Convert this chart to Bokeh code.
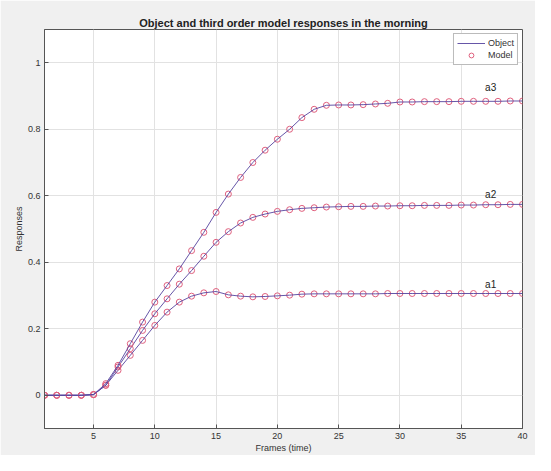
from bokeh.plotting import figure
from bokeh.models import FixedTicker, Legend, LegendItem, ColumnDataSource
from bokeh.core.properties import value
from bokeh.embed import file_html
from bokeh.resources import INLINE

frames = list(range(1, 41))

a1_object = [0, 0, 0, 0, 0.002, 0.03, 0.075, 0.12, 0.165, 0.21,
             0.25, 0.28, 0.298, 0.308, 0.312, 0.302, 0.298, 0.296, 0.297, 0.299,
             0.301, 0.304, 0.305, 0.305, 0.305, 0.305, 0.305, 0.305, 0.306, 0.306,
             0.306, 0.306, 0.306, 0.306, 0.306, 0.306, 0.306, 0.306, 0.306, 0.306]
a2_object = [0, 0, 0, 0, 0.002, 0.03, 0.085, 0.14, 0.195, 0.245,
             0.29, 0.334, 0.375, 0.418, 0.46, 0.492, 0.518, 0.535, 0.545, 0.553,
             0.558, 0.562, 0.564, 0.566, 0.567, 0.568, 0.568, 0.569, 0.569, 0.570,
             0.570, 0.571, 0.571, 0.571, 0.572, 0.572, 0.573, 0.573, 0.574, 0.574]
a3_object = [0, 0, 0, 0, 0.002, 0.035, 0.09, 0.155, 0.22, 0.28,
             0.33, 0.38, 0.435, 0.49, 0.55, 0.605, 0.655, 0.70, 0.737, 0.77,
             0.80, 0.835, 0.86, 0.872, 0.873, 0.873, 0.874, 0.876, 0.878, 0.882,
             0.882, 0.883, 0.883, 0.883, 0.884, 0.884, 0.884, 0.884, 0.885, 0.885]

a1_model = list(a1_object)
a2_model = list(a2_object)
a3_model = list(a3_object)

curve_names = ["a1", "a2", "a3"]
label_x = [37.4, 37.4, 37.4]
label_y = [0.334, 0.603, 0.925]

x_ticks = [5, 10, 15, 20, 25, 30, 35, 40]
y_ticks = [0, 0.2, 0.4, 0.6, 0.8, 1]
y_tick_labels = ["0", "0.2", "0.4", "0.6", "0.8", "1"]

BG = "#f0f0f0"
LINE_C = "#55449f"
MARK_C = "#e0607e"
FONT = "Liberation Sans"

p = figure(width=535, height=455, x_range=(1, 40), y_range=(-0.1, 1.1),
           output_backend="svg", toolbar_location=None,
           background_fill_color="white", border_fill_color=BG,
           min_border_left=44, min_border_right=13, min_border_top=29,
           min_border_bottom=26,
           title="Object and third order model responses in the morning")

p.title.align = "center"
p.title.text_font = FONT
p.title.text_font_size = "11px"
p.title.text_font_style = "bold"
p.title.text_color = "#222222"
p.title.offset = 0
p.title.standoff = 2

p.outline_line_color = "#555555"
p.outline_line_width = 1

for ax in (p.xaxis[0], p.yaxis[0]):
    ax.axis_line_color = "#555555"
    ax.major_tick_line_color = "#555555"
    ax.major_tick_in = 4
    ax.major_tick_out = 0
    ax.minor_tick_line_color = None
    ax.major_label_text_font = FONT
    ax.major_label_text_font_size = "9px"
    ax.major_label_text_color = "#333333"
    ax.axis_label_text_font = FONT
    ax.axis_label_text_font_size = "9px"
    ax.axis_label_text_font_style = "normal"
    ax.axis_label_text_color = "#333333"
    ax.major_label_standoff = 4
    ax.axis_label_standoff = 1

p.xaxis.ticker = FixedTicker(ticks=x_ticks)
p.yaxis.ticker = FixedTicker(ticks=y_ticks)
p.yaxis.major_label_overrides = {t: l for t, l in zip(y_ticks, y_tick_labels)}
p.xaxis.axis_label = "Frames (time)"
p.yaxis.axis_label = "Responses"

p.xgrid.grid_line_color = "#e2e2e2"
p.ygrid.grid_line_color = "#e2e2e2"

obj_renderers = []
mod_renderers = []
for obj, mod in ((a1_object, a1_model), (a2_object, a2_model), (a3_object, a3_model)):
    src = ColumnDataSource(dict(x=frames, obj=obj, mod=mod))
    m = p.scatter("x", "mod", source=src, marker="circle", size=6,
                  fill_color=None, line_color=MARK_C, line_width=1)
    l = p.line("x", "obj", source=src, line_color=LINE_C, line_width=1, line_alpha=0.9)
    obj_renderers.append(l)
    mod_renderers.append(m)

p.text(x=label_x, y=label_y, text=curve_names, text_font=value(FONT),
       text_font_size="10px", text_color="#222222", text_align="center",
       text_baseline="middle")

legend = Legend(items=[LegendItem(label="Object", renderers=[obj_renderers[0]]),
                       LegendItem(label="Model", renderers=[mod_renderers[0]])],
                location="top_right")
legend.label_text_font = FONT
legend.label_text_font_size = "9px"
legend.label_text_color = "#333333"
legend.glyph_width = 28
legend.glyph_height = 12
legend.label_height = 12
legend.spacing = 0
legend.padding = 3
legend.margin = 4
legend.label_standoff = 3
legend.border_line_color = "#777777"
legend.border_line_width = 1
legend.background_fill_color = "white"
p.add_layout(legend)

open("out.html", "w").write(file_html(p, INLINE))
